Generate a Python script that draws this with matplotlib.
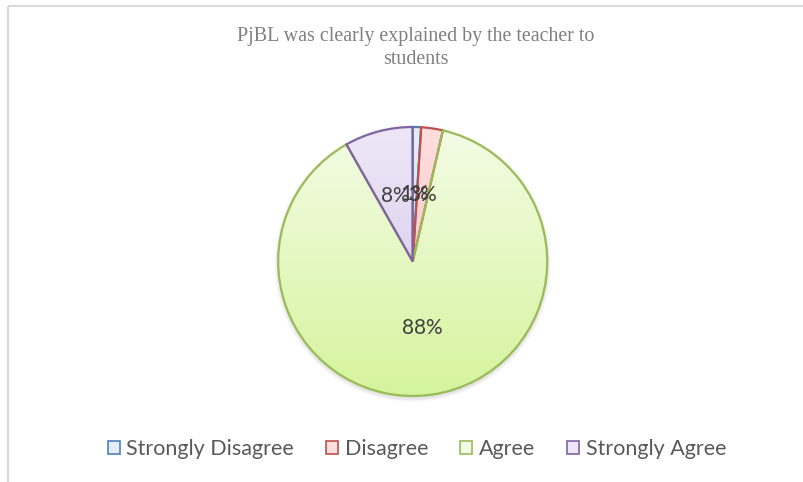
import numpy as np
import matplotlib.pyplot as plt
from matplotlib.patches import Patch, Circle
from matplotlib.colors import LinearSegmentedColormap

categories = ['Strongly Disagree', 'Disagree', 'Agree', 'Strongly Agree']
values = [1.0, 2.6, 88.2, 8.2]
title = 'PjBL was clearly explained by the teacher to\nstudents'

edge_colors = ['#4f81bd', '#c0504d', '#9bbb59', '#8064a2']
top_colors = ['#e4eefb', '#ffdede', '#f4fce6', '#eee7f7']
bottom_colors = ['#c6d9f1', '#ffb9b9', '#d5f49d', '#d0c1e8']

W, H = 804, 482
fig = plt.figure(figsize=(W / 100, H / 100), dpi=100)
ax = fig.add_axes([0, 0, 1, 1])

cx, cy, r = 412.7, H - 261.5, 134.5

wedges, texts, autotexts = ax.pie(
    values, startangle=90, counterclock=False, center=(cx, cy), radius=r,
    autopct=lambda p: '%d%%' % int(p + 0.5), pctdistance=0.5,
    textprops=dict(fontsize=15, color='#404040', family='Lato'),
    wedgeprops=dict(linewidth=1.6, facecolor='none'), frame=True)

# soft shadow under the pie
for k, a in zip(range(4, 0, -1), [0.04, 0.05, 0.06, 0.07]):
    ax.add_patch(Circle((cx, cy - 2), r + k, facecolor='#808080', edgecolor='none',
                        alpha=a, zorder=1))

grad = np.linspace(0, 1, 256).reshape(-1, 1)
for w, ec, tc, bc in zip(wedges, edge_colors, top_colors, bottom_colors):
    w.set_edgecolor(ec)
    w.set_zorder(3)
    cmap = LinearSegmentedColormap.from_list('g', [tc, bc])
    im = ax.imshow(grad, cmap=cmap, extent=(cx - r, cx + r, cy - r, cy + r),
                   origin='upper', aspect='auto', zorder=2)
    im.set_clip_path(w)
for t in autotexts:
    t.set_zorder(4)
ax.set_xlim(0, W)
ax.set_ylim(0, H)
ax.axis('off')

# chart frame
ax.plot([8, W], [H - 6, H - 6], color='#d9d9d9', lw=1.5, solid_capstyle='butt')
ax.plot([8, 8], [H - 6, 0], color='#d9d9d9', lw=1.5, solid_capstyle='butt')

fig.text(416 / W, 1 - 48 / H, title, ha='center', va='center',
         fontsize=14.4, color='#808080', family='Liberation Serif', linespacing=1.25)

handles = [Patch(facecolor=tc, edgecolor=ec, linewidth=1.2)
           for tc, ec in zip(top_colors, edge_colors)]
fig.legend(handles, categories, loc='center', bbox_to_anchor=(417 / W, 1 - 449 / H),
           ncol=4, frameon=False, labelcolor='#595959',
           prop=dict(family='Lato', size=15.5),
           handlelength=0.55, handleheight=0.55, handletextpad=0.3, columnspacing=1.5)

fig.savefig('out.png', dpi=100)
